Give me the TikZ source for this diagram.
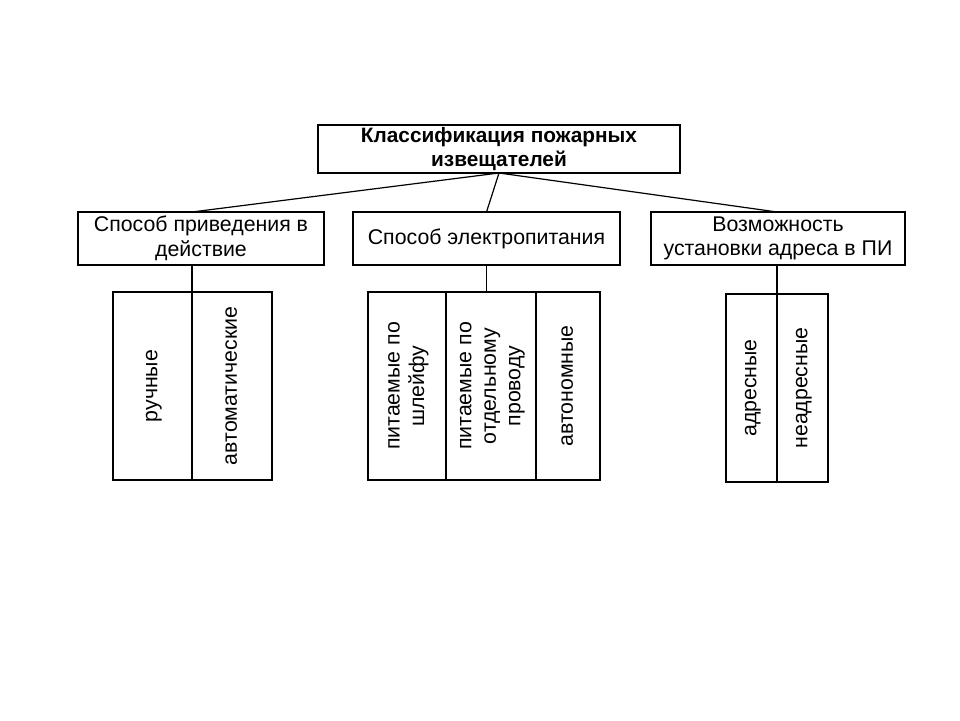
\documentclass[tikz,border=0pt]{standalone}
\usepackage{fontspec}
\setmainfont{Liberation Sans}
\usepackage{graphicx}
\usepackage{tikz}
\usetikzlibrary{positioning}
\tikzset{box/.style={draw, align=center, inner sep=2pt, outer sep=0pt},
  cell/.style={draw, minimum height=188pt, inner sep=0pt, outer sep=0pt}}
\newcommand{\vtext}[1]{\rotatebox{90}{\begin{tabular}{@{}c@{}}#1\end{tabular}}}

\begin{document}
\begin{tikzpicture}[x=1pt, y=1pt, line width=1.2pt, every node/.style={font=\fontsize{21.3}{24.5}\selectfont}]
\useasboundingbox (0,0) rectangle (960,720);
\node (top) at (499,571) [box, minimum width=362pt, minimum height=48pt, font=\bfseries\fontsize{20.8}{24}\selectfont] {Классификация пожарных\\извещателей};
\node (lb) at (201,481.5) [box, minimum width=246pt, minimum height=53pt] {Способ приведения в\\действие};
\node (mb) at (486.5,481.5) [box, minimum width=267pt, minimum height=53pt] {Способ электропитания};
\node (rb) at (778,481.5) [box, minimum width=254pt, minimum height=53pt] {Возможность\\установки адреса в ПИ};
% cells
\node (l1) at (152.5,334) [cell, minimum width=79pt] {\vtext{ручные}};
\node (l2) [right=0pt of l1, cell, minimum width=80pt] {\vtext{автоматические}};
\node (m1) at (407,334) [cell, minimum width=78pt] {\vtext{питаемые по\\шлейфу}};
\node (m2) [right=0pt of m1, cell, minimum width=90pt] {\vtext{питаемые по\\отдельному\\проводу}};
\node (m3) [right=0pt of m2, cell, minimum width=64pt] {\vtext{автономные}};
\node (r1) at (751.5,332) [cell, minimum width=51pt] {\vtext{адресные}};
\node (r2) [right=0pt of r1, cell, minimum width=51pt] {\vtext{неадресные}};
\draw (top.south) -- (lb.north -| l1.north east);
\draw (top.south) -- (mb.north);
\draw (top.south) -- (rb.north -| r1.north east);
\draw (lb.south -| l1.north east) -- (l1.north east);
\draw (mb.south) -- (mb.south |- m2.north);
\draw (rb.south -| r1.north east) -- (r1.north east);
\end{tikzpicture}
\end{document}
